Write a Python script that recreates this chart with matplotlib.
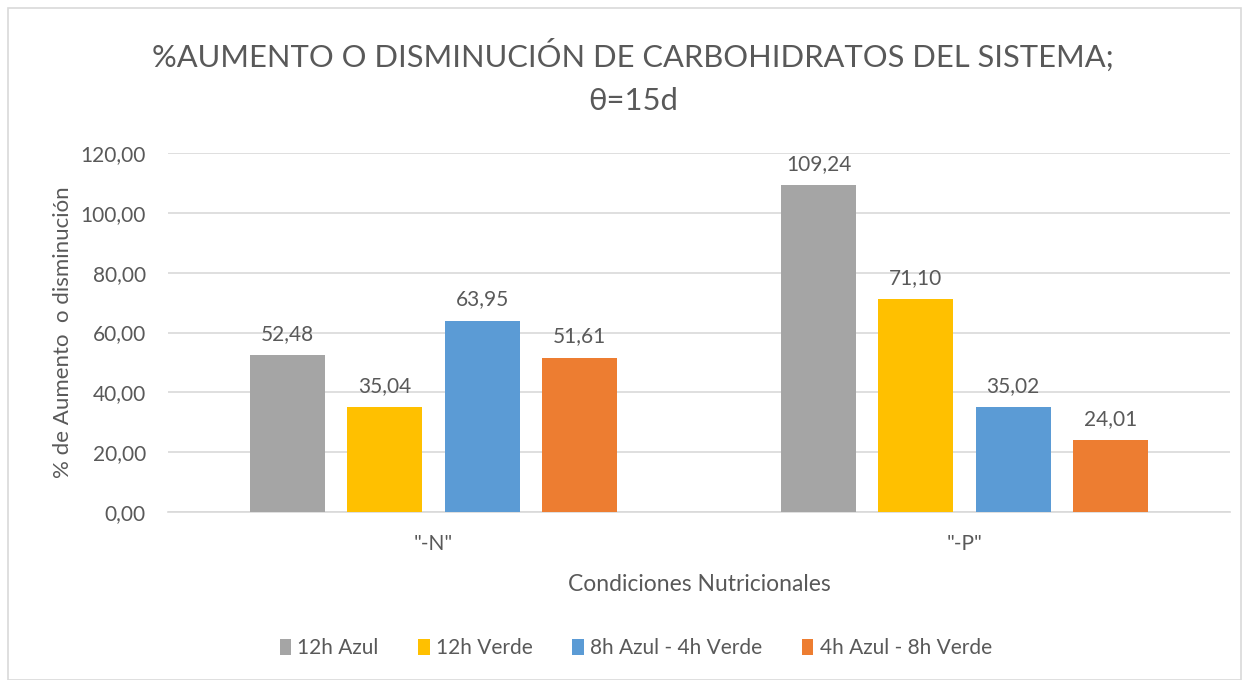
import matplotlib
matplotlib.use("Agg")
import matplotlib.pyplot as plt
from matplotlib.patches import Rectangle
import numpy as np

categories = ['"-N"', '"-P"']
series_names = ["12h Azul", "12h Verde", "8h Azul - 4h Verde", "4h Azul - 8h Verde"]
values = {
    "12h Azul": [52.48, 109.24],
    "12h Verde": [35.04, 71.10],
    "8h Azul - 4h Verde": [63.95, 35.02],
    "4h Azul - 8h Verde": [51.61, 24.01],
}
colors = ["#A5A5A5", "#FFC000", "#5B9BD5", "#ED7D31"]
yticks = [0, 20, 40, 60, 80, 100, 120]

plt.rcParams['font.family'] = ['Lato', 'DejaVu Sans']
txt = "#595959"

fig = plt.figure(figsize=(12.49, 6.8), dpi=100)
fig.patches.append(Rectangle((8/1249, 0), 1233/1249, 672/680, transform=fig.transFigure,
                             fill=False, edgecolor="#D9D9D9", linewidth=1.2))
ax = fig.add_axes([168/1249, 1-512/680, (1230-168)/1249, (512-153)/680])

x = np.arange(len(categories))
width = 0.141
step = 0.183
for i, name in enumerate(series_names):
    pos = x + (i - 1.5) * step
    bars = ax.bar(pos, values[name], width=width, color=colors[i], label=name, zorder=3)
    for b, v in zip(bars, values[name]):
        ax.annotate(f"{v:.2f}".replace(".", ","), (b.get_x() + b.get_width()/2, v),
                    xytext=(0, 8), textcoords="offset points", ha="center", va="bottom",
                    fontsize=15, color=txt)

ax.set_xlim(-0.5, 1.5)
ax.set_ylim(0, 120)
ax.set_yticks(yticks)
ax.set_yticklabels([f"{t:.2f}".replace(".", ",") for t in yticks], fontsize=15, color=txt)
ax.set_xticks(x)
ax.set_xticklabels(categories, fontsize=15, color=txt)
ax.tick_params(axis="y", length=0, pad=16)
ax.tick_params(axis="x", length=0, pad=16)
ax.grid(axis="y", color="#D9D9D9", linewidth=1.2, zorder=0)
for s in ["top", "right", "left"]:
    ax.spines[s].set_visible(False)
ax.spines["bottom"].set_color("#D9D9D9")
ax.spines["bottom"].set_linewidth(1.2)
ax.set_xlabel("Condiciones Nutricionales", fontsize=16.5, color=txt, labelpad=14)
ax.set_ylabel("% de Aumento  o disminución", fontsize=16, color=txt, labelpad=5)

fig.text(0.507, 1-55/680, "%AUMENTO O DISMINUCIÓN DE CARBOHIDRATOS DEL SISTEMA;", ha="center", va="center",
         fontsize=22.2, color=txt)
fig.text(0.507, 1-101/680, "θ=15d", ha="center", va="center", fontsize=22.2, color=txt)

fig.legend(loc="center", bbox_to_anchor=(0.509, 1-648/680), ncol=4, frameon=False,
           fontsize=15, labelcolor=txt, handlelength=0.55, handleheight=0.8,
           handletextpad=0.3, columnspacing=1.9)

fig.savefig("out.png", dpi=100, facecolor="white")
